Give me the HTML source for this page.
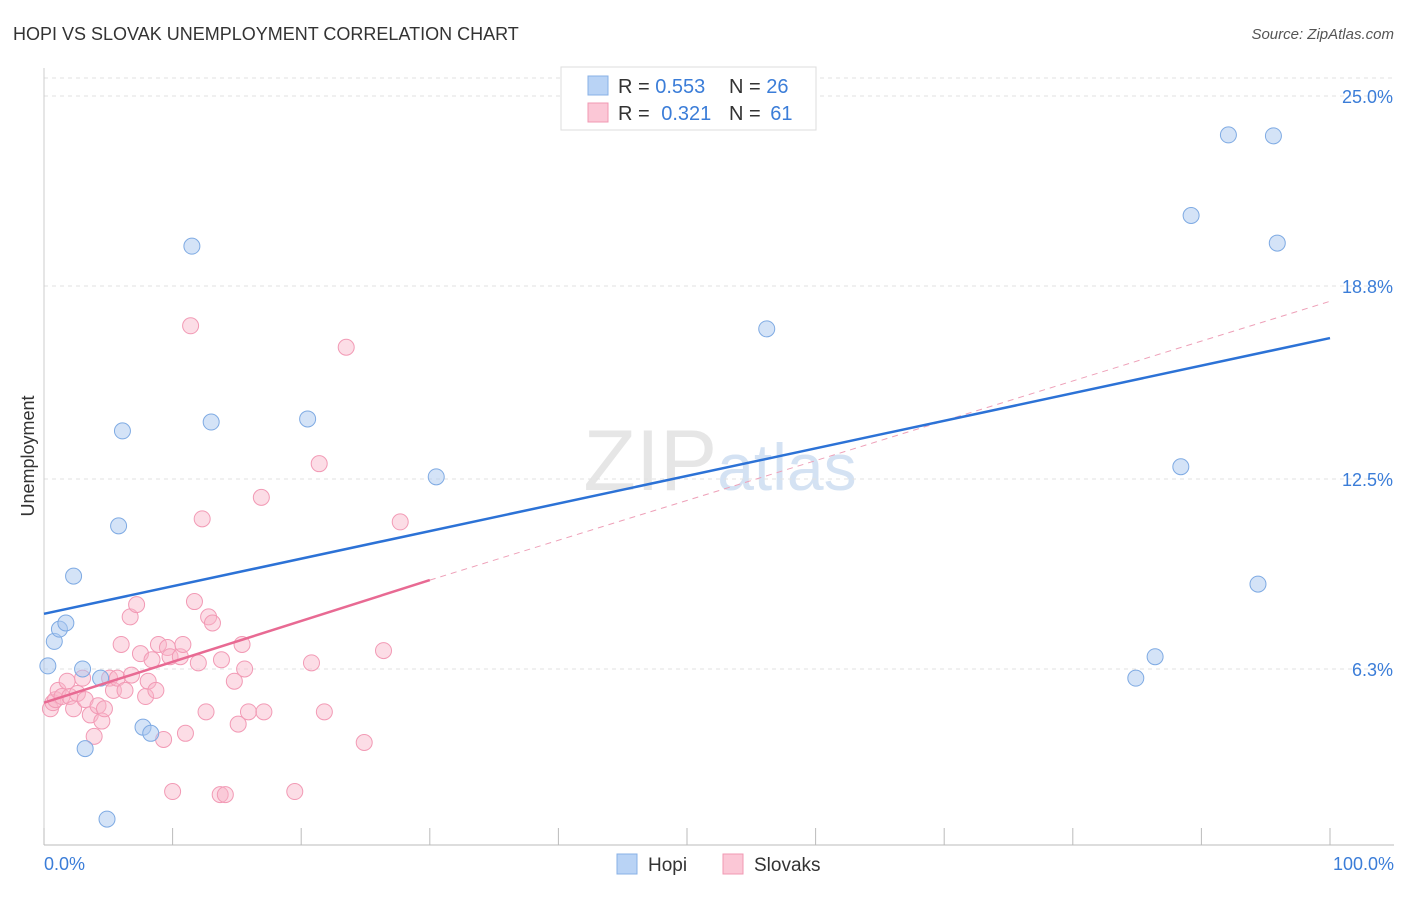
<!DOCTYPE html>
<html><head><meta charset="utf-8">
<style>
body{margin:0;background:#fff;font-family:"Liberation Sans",sans-serif;}
svg text{font-family:"Liberation Sans",sans-serif;}
</style></head>
<body>
<svg id="chart" width="1406" height="892">
<text x="13" y="40" font-size="18" fill="#333">HOPI VS SLOVAK UNEMPLOYMENT CORRELATION CHART</text>
<text x="1394" y="39" font-size="15" fill="#555" font-style="italic" text-anchor="end">Source: ZipAtlas.com</text>
<text x="720" y="490" font-size="86" fill="#e6e6e6" text-anchor="middle" font-family="Liberation Serif">ZIP<tspan fill="#d4e2f3" font-family="Liberation Sans" font-size="66">atlas</tspan></text>
<g id="grid"></g>
<g id="axes"></g>
<g id="marks"></g>
<text transform="translate(34,456) rotate(-90)" font-size="18" fill="#333" text-anchor="middle">Unemployment</text>
<g>
<rect x="561" y="67" width="255" height="63" fill="#fff" stroke="#ddd"/>
<rect x="588" y="76" width="20" height="19" fill="#b9d3f5" stroke="#88b0e6"/>
<rect x="588" y="103" width="20" height="19" fill="#fbc7d6" stroke="#f099b3"/>
<text x="618" y="93" font-size="20" fill="#333">R = <tspan fill="#3b7dd8">0.553</tspan></text>
<text x="729" y="93" font-size="20" fill="#333">N = <tspan fill="#3b7dd8">26</tspan></text>
<text x="618" y="120" font-size="20" fill="#333">R = <tspan fill="#3b7dd8" dx="6">0.321</tspan></text>
<text x="729" y="120" font-size="20" fill="#333">N = <tspan fill="#3b7dd8" dx="4">61</tspan></text>
</g>
<g>
<rect x="617" y="854" width="20" height="20" fill="#b9d3f5" stroke="#88b0e6"/>
<text x="648" y="871" font-size="19" fill="#333">Hopi</text>
<rect x="723" y="854" width="20" height="20" fill="#fbc7d6" stroke="#f099b3"/>
<text x="754" y="871" font-size="19" fill="#333">Slovaks</text>
</g>
</svg>
<script>
const yTicks=[6.3,12.5,18.8,25.0];
const yTickLabels=["6.3%","12.5%","18.8%","25.0%"];
const hopiX=[0.3,0.8,1.2,1.7,2.3,3.0,3.2,4.4,4.9,5.8,6.1,7.7,8.3,11.5,13.0,20.5,30.5,56.2,84.9,86.4,88.4,89.2,92.1,94.4,95.6,95.9];
const hopiY=[6.4,7.2,7.6,7.8,9.33,6.3,3.7,6.0,1.4,10.97,14.07,4.4,4.2,20.1,14.36,14.46,12.57,17.4,6.0,6.7,12.9,21.1,23.73,9.07,23.7,20.2];
const slovX=[0.5,0.7,0.9,1.1,1.4,1.8,2.0,2.3,2.6,3.0,3.2,3.6,3.9,4.2,4.5,4.7,5.1,5.4,5.7,6.0,6.3,6.7,6.8,7.2,7.5,7.9,8.1,8.4,8.7,8.9,9.3,9.6,9.8,10.0,10.6,10.8,11.0,11.4,11.7,12.0,12.3,12.6,12.8,13.1,13.7,13.8,14.1,14.8,15.1,15.4,15.6,15.9,16.9,17.1,19.5,20.8,21.4,21.8,23.5,24.9,26.4,27.7];
const slovY=[5.0,5.2,5.3,5.6,5.4,5.9,5.4,5.0,5.5,6.0,5.3,4.8,4.1,5.1,4.6,5.0,6.0,5.6,6.0,7.1,5.6,8.0,6.1,8.4,6.8,5.4,5.9,6.6,5.6,7.1,4.0,7.0,6.7,2.3,6.7,7.1,4.2,17.5,8.5,6.5,11.2,4.9,8.0,7.8,2.2,6.6,2.2,5.9,4.5,7.1,6.3,4.9,11.9,4.9,2.3,6.5,13.0,4.9,16.8,3.9,6.9,11.1];
const hopiLine=[8.1,17.1];
const slovLine=[5.2,9.2,18.3];
const X=v=>44+v*12.86, Y=v=>862-v*30.64;
const ns="http://www.w3.org/2000/svg";
function mk(t,a,p){const e=document.createElementNS(ns,t);for(const k in a)e.setAttribute(k,a[k]);p.appendChild(e);return e;}
const grid=document.getElementById('grid'),axes=document.getElementById('axes'),marks=document.getElementById('marks');
let g=mk('line',{x1:44,x2:1394,y1:78,y2:78,stroke:'#e2e2e2','stroke-dasharray':'4,4'},grid);


yTicks.forEach((v,i)=>{
 const l=mk('line',{x1:44,x2:1394,y1:Y(v),y2:Y(v),stroke:'#e2e2e2','stroke-dasharray':'4,4'},grid);
 
 
 const t=mk('text',{x:1393,y:Y(v)+7,'font-size':18,fill:'#3b7dd8','text-anchor':'end'},axes);
 t.textContent=yTickLabels[i];
 
 
});
let ax=mk('line',{x1:44,x2:1394,y1:845,y2:845,stroke:'#bbb'},axes);


ax=mk('line',{x1:44,x2:44,y1:68,y2:845,stroke:'#ccc'},axes);


for(let i=0;i<=10;i++){const tk=mk('line',{x1:X(i*10),x2:X(i*10),y1:828,y2:845,stroke:'#bbb'},axes);
 
 }
let t=mk('text',{x:44,y:870,'font-size':18,fill:'#3b7dd8'},axes);t.textContent='0.0%';


t=mk('text',{x:1394,y:870,'font-size':18,fill:'#3b7dd8','text-anchor':'end'},axes);t.textContent='100.0%';


slovX.forEach((x,i)=>{const c=mk('circle',{cx:X(x),cy:Y(slovY[i]),r:8,fill:'rgba(248,180,200,0.45)',stroke:'#f29ab5','stroke-width':1},marks);
 
 });
hopiX.forEach((x,i)=>{const c=mk('circle',{cx:X(x),cy:Y(hopiY[i]),r:8,fill:'rgba(170,200,240,0.5)',stroke:'#7eaae3','stroke-width':1},marks);
 
 });
let ln=mk('line',{x1:X(30),y1:Y(slovLine[1]),x2:X(100),y2:Y(slovLine[2]),stroke:'#eea0b8','stroke-width':1,'stroke-dasharray':'6,5'},marks);


ln=mk('line',{x1:X(0),y1:Y(slovLine[0]),x2:X(30),y2:Y(slovLine[1]),stroke:'#e86a93','stroke-width':2.5},marks);


ln=mk('line',{x1:X(0),y1:Y(hopiLine[0]),x2:X(100),y2:Y(hopiLine[1]),stroke:'#2c72d6','stroke-width':2.5},marks);


</script>
</body></html>
